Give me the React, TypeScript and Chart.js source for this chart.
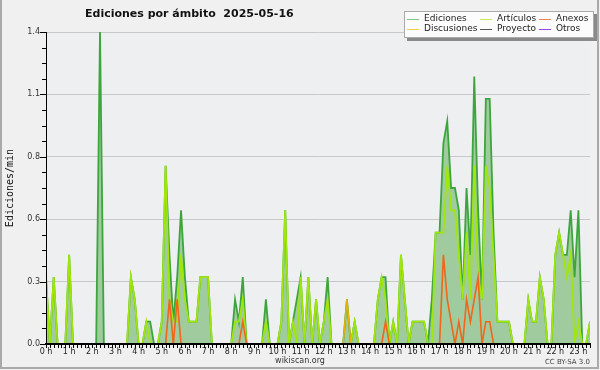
import React, { useEffect, useRef } from 'react';
import { Chart, registerables } from 'chart.js';

Chart.register(...registerables);

// 10-minute bins, values in edits per minute
const hourLabels = ['0 h', '1 h', '2 h', '3 h', '4 h', '5 h', '6 h', '7 h', '8 h', '9 h', '10 h', '11 h',
  '12 h', '13 h', '14 h', '15 h', '16 h', '17 h', '18 h', '19 h', '20 h', '21 h', '22 h', '23 h'];

const ediciones = [
  0.3, 0, 0.3, 0, 0, 0,
  0.4, 0, 0, 0, 0, 0,
  0, 0, 1.4, 0, 0, 0,
  0, 0, 0, 0, 0.3, 0.2,
  0, 0, 0.1, 0.1, 0, 0,
  0.1, 0.8, 0.4, 0.1, 0.3, 0.6,
  0.3, 0.1, 0.1, 0.1, 0.3, 0.3,
  0.3, 0, 0, 0, 0, 0,
  0, 0.2, 0.1, 0.3, 0, 0,
  0, 0, 0, 0.2, 0, 0,
  0, 0.1, 0.6, 0, 0.1, 0.2,
  0.3, 0, 0.3, 0, 0.2, 0,
  0.1, 0.3, 0, 0, 0, 0,
  0.2, 0, 0.1, 0, 0, 0,
  0, 0, 0.2, 0.3, 0.3, 0,
  0.1, 0, 0.4, 0.2, 0, 0.1,
  0.1, 0.1, 0.1, 0, 0.2, 0.5,
  0.5, 0.9, 1.0, 0.7, 0.7, 0.6,
  0.2, 0.7, 0.4, 1.2, 0.6, 0.2,
  1.1, 1.1, 0.5, 0.1, 0.1, 0.1,
  0.1, 0, 0, 0, 0, 0.2,
  0.1, 0.1, 0.3, 0.2, 0, 0,
  0.4, 0.5, 0.4, 0.4, 0.6, 0.3,
  0.6, 0, 0, 0.1,
];

const articulos = [
  0.3, 0, 0.3, 0, 0, 0,
  0.4, 0, 0, 0, 0, 0,
  0, 0, 0, 0, 0, 0,
  0, 0, 0, 0, 0.3, 0.2,
  0, 0, 0.1, 0, 0, 0,
  0.1, 0.8, 0.2, 0.1, 0.1, 0.4,
  0.2, 0.1, 0.1, 0.1, 0.3, 0.3,
  0.3, 0, 0, 0, 0, 0,
  0, 0.1, 0.1, 0.2, 0, 0,
  0, 0, 0, 0.1, 0, 0,
  0, 0.1, 0.6, 0, 0.1, 0,
  0.3, 0, 0.3, 0, 0.2, 0,
  0.1, 0.2, 0, 0, 0, 0,
  0, 0, 0.1, 0, 0, 0,
  0, 0, 0.2, 0.3, 0.2, 0,
  0.1, 0, 0.4, 0.2, 0, 0.1,
  0.1, 0.1, 0.1, 0, 0, 0.5,
  0.5, 0.5, 0.8, 0.6, 0.6, 0.4,
  0.2, 0.5, 0.2, 0.8, 0.3, 0.2,
  0.8, 0.7, 0.4, 0.1, 0.1, 0.1,
  0.1, 0, 0, 0, 0, 0.2,
  0.1, 0.1, 0.3, 0.2, 0, 0,
  0.4, 0.5, 0.4, 0.3, 0.4, 0,
  0.1, 0, 0, 0.1,
];

const anexos = [
  0, 0, 0, 0, 0, 0,
  0, 0, 0, 0, 0, 0,
  0, 0, 0, 0, 0, 0,
  0, 0, 0, 0, 0, 0,
  0, 0, 0, 0, 0, 0,
  0, 0, 0.2, 0, 0.2, 0,
  0, 0, 0, 0, 0, 0,
  0, 0, 0, 0, 0, 0,
  0, 0, 0, 0.1, 0, 0,
  0, 0, 0, 0, 0, 0,
  0, 0, 0, 0, 0, 0,
  0, 0, 0, 0, 0, 0,
  0, 0, 0, 0, 0, 0,
  0, 0, 0, 0, 0, 0,
  0, 0, 0, 0, 0.1, 0,
  0, 0, 0, 0, 0, 0,
  0, 0, 0, 0, 0, 0,
  0, 0.4, 0.2, 0.1, 0, 0.1,
  0, 0.2, 0.1, 0.2, 0.3, 0,
  0.1, 0.1, 0, 0, 0, 0,
  0, 0, 0, 0, 0, 0,
  0, 0, 0, 0, 0, 0,
  0, 0, 0, 0, 0, 0,
  0, 0, 0, 0,
];

const discusiones = [
  0, 0, 0, 0, 0, 0,
  0, 0, 0, 0, 0, 0,
  0, 0, 0, 0, 0, 0,
  0, 0, 0, 0, 0, 0,
  0, 0, 0, 0, 0, 0,
  0, 0, 0, 0, 0, 0,
  0, 0, 0, 0, 0, 0,
  0, 0, 0, 0, 0, 0,
  0, 0, 0, 0, 0, 0,
  0, 0, 0, 0, 0, 0,
  0, 0, 0, 0, 0, 0,
  0, 0, 0, 0, 0, 0,
  0, 0, 0, 0, 0, 0,
  0.2, 0, 0, 0, 0, 0,
  0, 0, 0, 0, 0, 0,
  0, 0, 0, 0, 0, 0,
  0, 0, 0, 0, 0, 0,
  0, 0, 0, 0, 0, 0,
  0, 0, 0, 0, 0, 0,
  0, 0, 0, 0, 0, 0,
  0, 0, 0, 0, 0, 0,
  0, 0, 0, 0, 0, 0,
  0, 0, 0, 0, 0, 0,
  0, 0, 0, 0,
];

const yMajorValues = [0, 0.28, 0.56, 0.84, 1.12, 1.4];
const yTickLabels = ['0.0', '0.3', '0.6', '0.8', '1.1', '1.4'];

const TITLE = 'Ediciones por ámbito  2025-05-16';
const Y_TITLE = 'Ediciones/min';
const SITE = 'wikiscan.org';
const LICENSE = 'CC BY-SA 3.0';

const legendItems = [
  { label: 'Ediciones', color: '#7fc97f', col: 0, row: 0 },
  { label: 'Artículos', color: '#c6ea5c', col: 1, row: 0 },
  { label: 'Anexos', color: '#ee8452', col: 2, row: 0 },
  { label: 'Discusiones', color: '#f0cf4a', col: 0, row: 1 },
  { label: 'Proyecto', color: '#555555', col: 1, row: 1 },
  { label: 'Otros', color: '#9a45ee', col: 2, row: 1 },
];

const COLORS = {
  edLine: '#3ca63c',
  edFill: '#9fcb9f',
  art: '#a0e60a',
  anx: '#f0661a',
  disc: '#e6b20a',
};

const pts = (arr: number[]) => arr.map((y, i) => ({ x: i, y }));

const decor = {
  id: 'decor',
  beforeDraw(chart: any) {
    const { ctx, chartArea: a, width, height } = chart;
    ctx.save();
    ctx.fillStyle = '#f0f0f0';
    ctx.fillRect(0, 0, width, height);
    ctx.fillStyle = '#eeeff1';
    ctx.fillRect(a.left, a.top, a.right - a.left, a.bottom - a.top);
    ctx.restore();
  },
  afterDraw(chart: any) {
    const { ctx, chartArea: a } = chart;
    const xs = chart.scales.x;
    const ys = chart.scales.y;
    ctx.save();
    // tick marks
    ctx.strokeStyle = '#000';
    ctx.lineWidth = 1;
    ctx.beginPath();
    for (let k = 0; k < yMajorValues.length; k++) {
      const y = Math.round(ys.getPixelForValue(yMajorValues[k])) + 0.5;
      ctx.moveTo(a.left - 6, y);
      ctx.lineTo(a.left, y);
      if (k < yMajorValues.length - 1) {
        for (let q = 1; q < 4; q++) {
          const v = yMajorValues[k] + ((yMajorValues[k + 1] - yMajorValues[k]) * q) / 4;
          const yy = Math.round(ys.getPixelForValue(v)) + 0.5;
          ctx.moveTo(a.left - 4, yy);
          ctx.lineTo(a.left, yy);
        }
      }
    }
    for (let i = 0; i < ediciones.length; i++) {
      const x = Math.round(xs.getPixelForValue(i)) + 0.5;
      ctx.moveTo(x, a.bottom);
      ctx.lineTo(x, a.bottom + 4);
    }
    ctx.stroke();

    // title
    ctx.fillStyle = '#111';
    ctx.font = 'bold 11px "DejaVu Sans"';
    ctx.textAlign = 'left';
    ctx.textBaseline = 'middle';
    ctx.fillText(TITLE, 85, 14);

    // y title
    ctx.save();
    ctx.translate(10, (a.top + a.bottom) / 2);
    ctx.rotate(-Math.PI / 2);
    ctx.font = '10px "DejaVu Sans Mono"';
    ctx.textAlign = 'center';
    ctx.textBaseline = 'middle';
    ctx.fillStyle = '#111';
    ctx.fillText(Y_TITLE, 0, 0);
    ctx.restore();

    // footer
    ctx.fillStyle = '#333';
    ctx.font = '8px "DejaVu Sans"';
    ctx.textAlign = 'center';
    ctx.textBaseline = 'middle';
    ctx.fillText(SITE, 300, 361);
    ctx.font = '7px "DejaVu Sans"';
    ctx.textAlign = 'right';
    ctx.fillStyle = '#444';
    ctx.fillText(LICENSE, 590, 362);

    // legend box
    const bx = 404, by = 11, bw = 190, bh = 27;
    ctx.fillStyle = '#8a8a8a';
    ctx.fillRect(bx + 3, by + 3, bw, bh);
    ctx.fillStyle = '#fcfcfc';
    ctx.fillRect(bx, by, bw, bh);
    ctx.strokeStyle = '#aaa';
    ctx.lineWidth = 1;
    ctx.strokeRect(bx + 0.5, by + 0.5, bw - 1, bh - 1);
    const colX = [407, 480, 539];
    const rowY = [19, 29];
    ctx.font = '9px "DejaVu Sans"';
    ctx.textAlign = 'left';
    ctx.textBaseline = 'middle';
    legendItems.forEach((it) => {
      const x0 = colX[it.col];
      const y0 = rowY[it.row] + 0.5;
      ctx.strokeStyle = it.color;
      ctx.beginPath();
      ctx.moveTo(x0, y0);
      ctx.lineTo(x0 + 12, y0);
      ctx.stroke();
      ctx.fillStyle = '#222';
      ctx.fillText(it.label, x0 + 17, rowY[it.row]);
    });

    // frame
    ctx.strokeStyle = '#aaaaaa';
    ctx.lineWidth = 2;
    ctx.strokeRect(1, -5, 597, 373);
    ctx.restore();
  },
};

export default function App() {
  const ref = useRef<HTMLCanvasElement | null>(null);
  useEffect(() => {
    if (!ref.current) return;
    const chart = new Chart(ref.current, {
      type: 'line',
      data: {
        datasets: [
          { label: 'Anexos', data: pts(anexos), borderColor: COLORS.anx, borderWidth: 1.6, pointRadius: 0, fill: false, order: 1 },
          { label: 'Discusiones', data: pts(discusiones), borderColor: COLORS.disc, borderWidth: 1.6, pointRadius: 0, fill: false, order: 2 },
          { label: 'Artículos', data: pts(articulos), borderColor: COLORS.art, borderWidth: 1.8, pointRadius: 0, fill: false, order: 3 },
          { label: 'Ediciones', data: pts(ediciones), borderColor: COLORS.edLine, backgroundColor: COLORS.edFill, borderWidth: 1.8, pointRadius: 0, fill: 'origin', order: 4 },
        ],
      },
      options: {
        animation: false,
        responsive: false,
        devicePixelRatio: 1,
        layout: { padding: { top: 32, right: 10, left: 0, bottom: 0 } },
        plugins: { legend: { display: false }, tooltip: { enabled: false }, title: { display: false } },
        scales: {
          x: {
            type: 'linear',
            min: 0,
            max: ediciones.length - 1,
            afterFit: (s: any) => { s.height = 26; },
            afterBuildTicks: (s: any) => { s.ticks = hourLabels.map((_, h) => ({ value: h * 6 })); },
            ticks: {
              callback: (_v: any, i: number) => hourLabels[i],
              autoSkip: false,
              maxRotation: 0,
              padding: 3,
              font: { size: 8, family: 'DejaVu Sans' },
              color: '#222',
            },
            grid: { display: false, drawTicks: false },
            border: { display: true, color: '#000', width: 2, z: 1 },
          },
          y: {
            min: 0,
            max: 1.4,
            afterFit: (s: any) => { s.width = 46; },
            afterBuildTicks: (s: any) => { s.ticks = yMajorValues.map((v) => ({ value: v })); },
            ticks: {
              callback: (_v: any, i: number) => yTickLabels[i],
              padding: 6,
              font: { size: 8, family: 'DejaVu Sans' },
              color: '#333',
            },
            grid: {
              color: (c: any) => (c.index === 0 ? 'rgba(0,0,0,0)' : '#c8c8c8'),
              drawTicks: false,
              lineWidth: 1,
            },
            border: { display: true, color: '#000', width: 1, z: 1 },
          },
        },
      },
      plugins: [decor],
    } as any);
    return () => chart.destroy();
  }, []);
  return (
    <div style={{ position: 'absolute', left: 0, top: 0, width: 600, height: 370 }}>
      <canvas ref={ref} width={600} height={370} style={{ display: 'block' }} />
    </div>
  );
}
